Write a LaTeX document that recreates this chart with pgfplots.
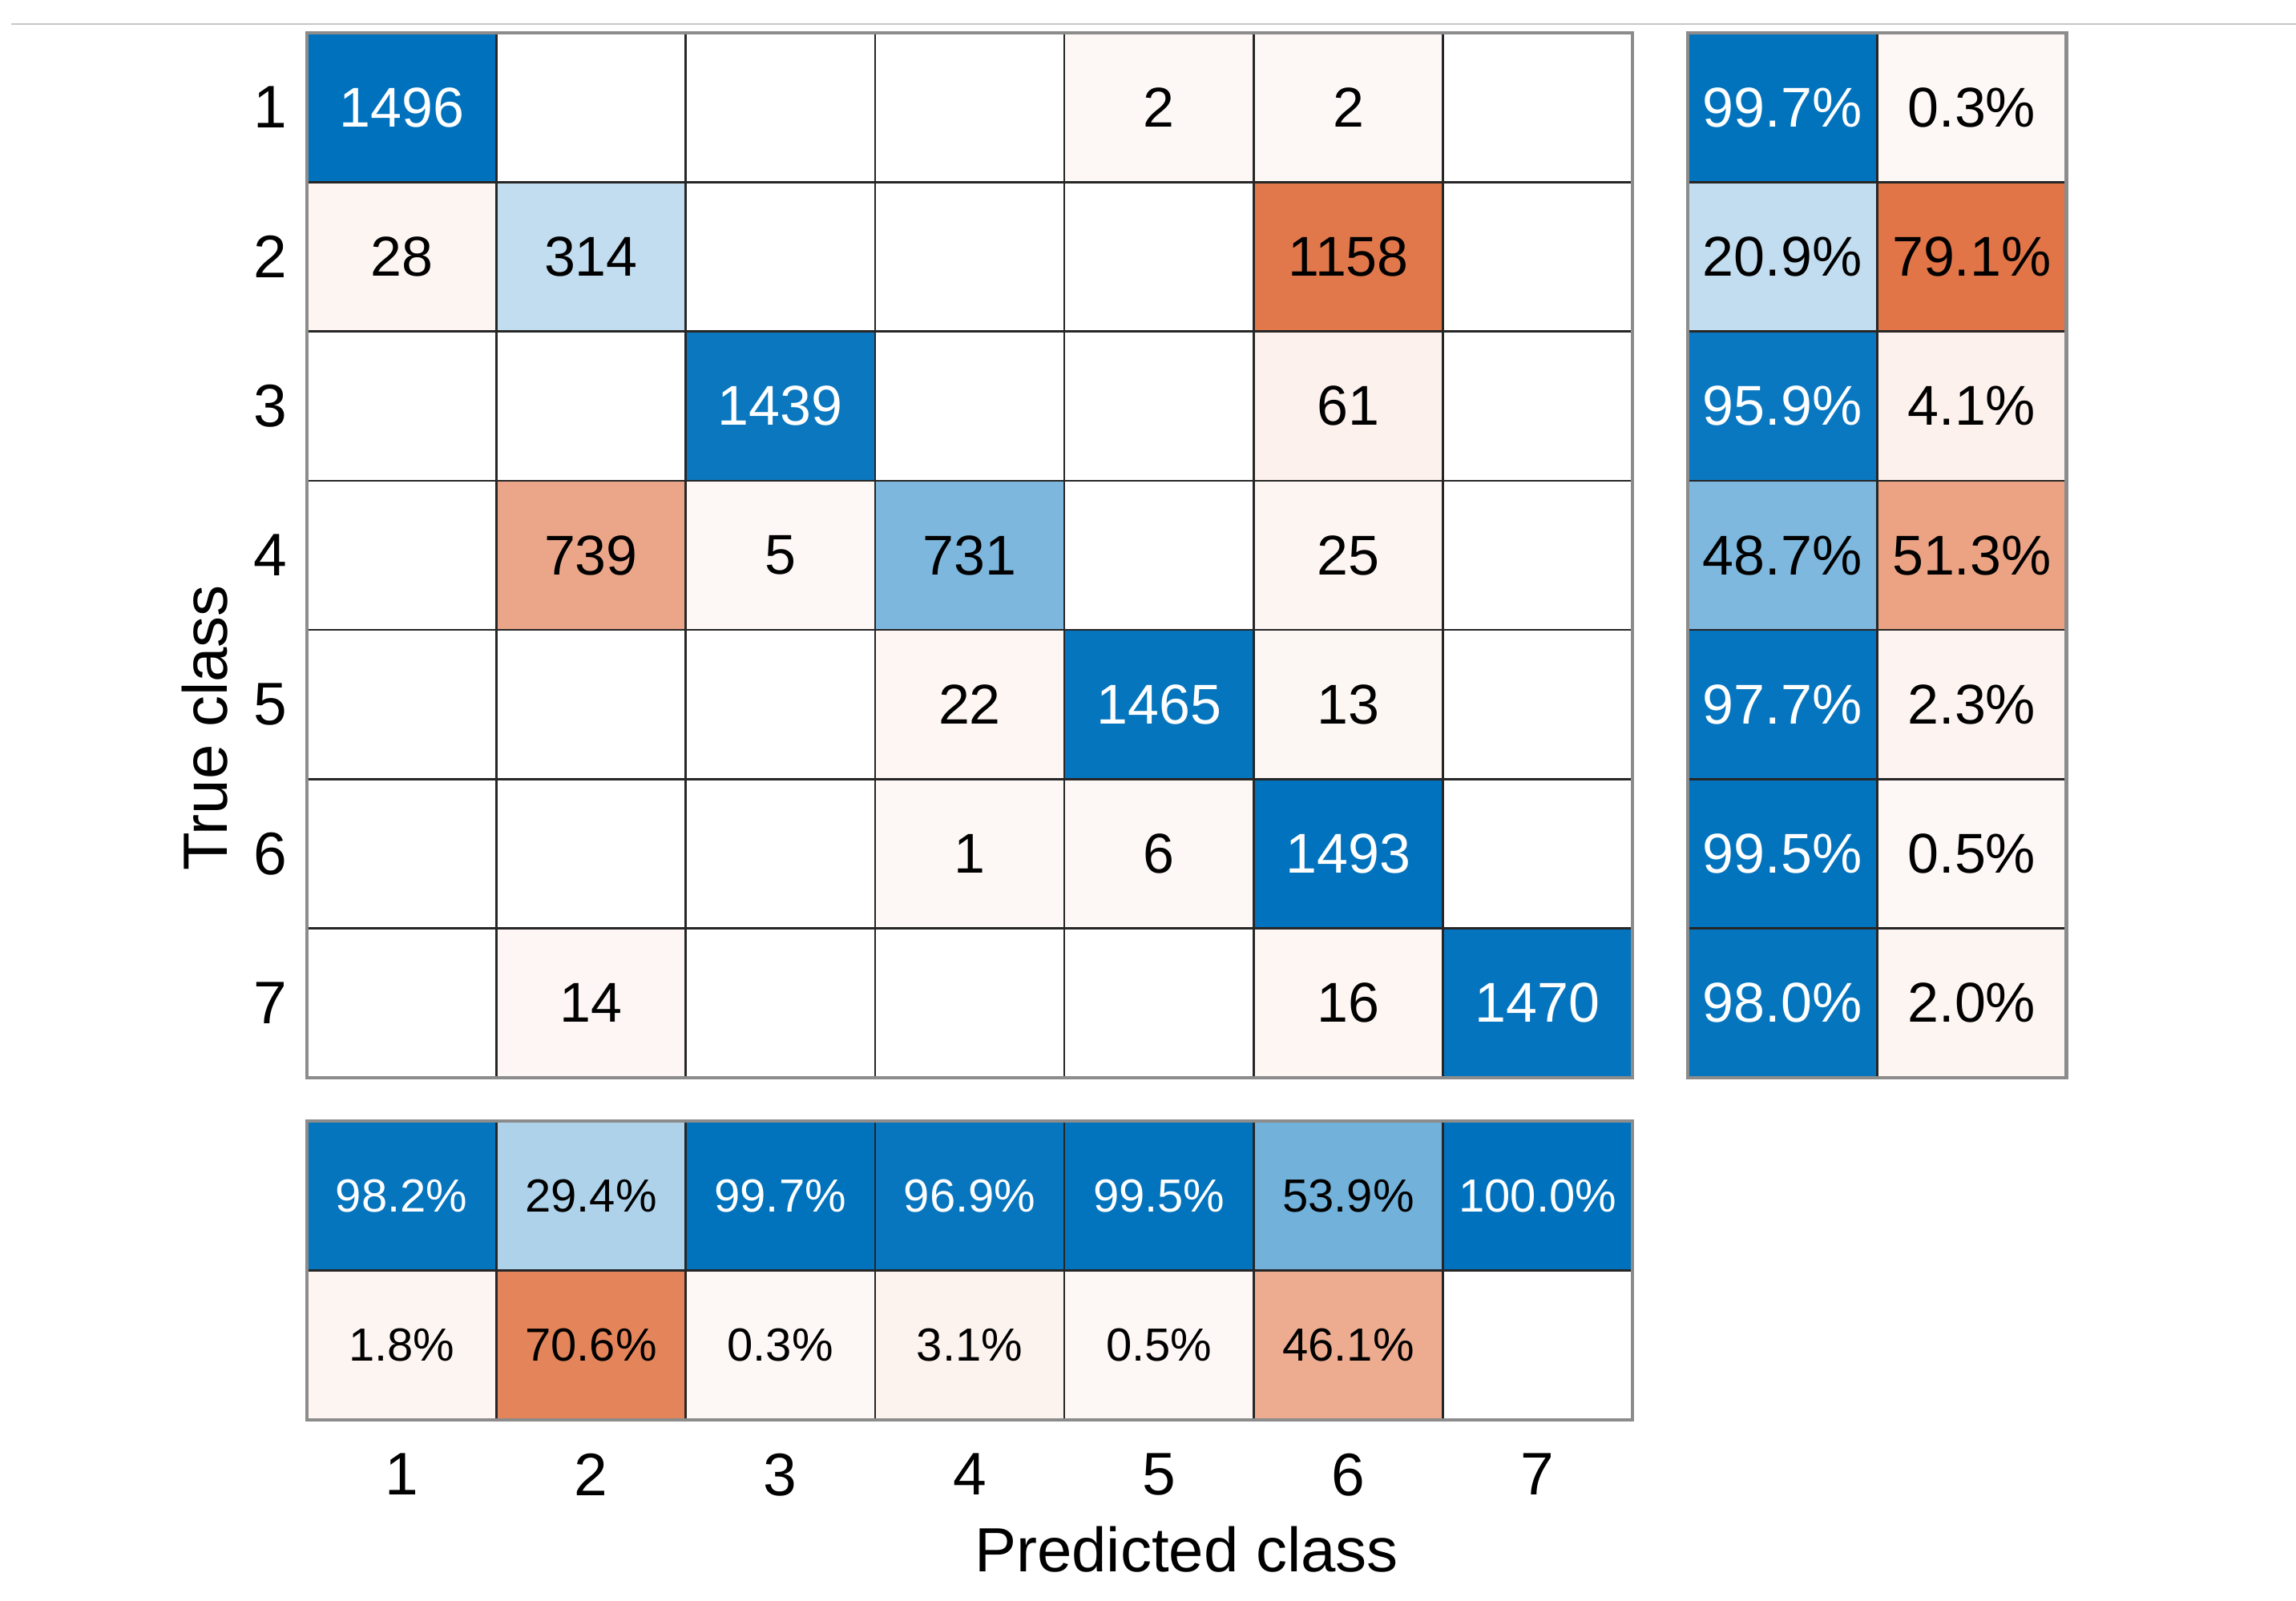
\documentclass[border=0pt]{standalone}
\usepackage{fontspec}
\setmainfont{Liberation Sans}
\setsansfont{Liberation Sans}
\usepackage{pgfplots}
\usepackage{pgfplotstable}
\pgfplotsset{compat=1.18}
\newcommand\cellfont{\fontsize{14}{16}\selectfont}
\newcommand\sumfont{\fontsize{11.6}{13}\selectfont}
\newcommand\labfont{\fontsize{15.6}{18}\selectfont}

\pgfplotstableread{
x y v
1 1 1496
2 1 0
3 1 0
4 1 0
5 1 2
6 1 2
7 1 0
1 2 28
2 2 314
3 2 0
4 2 0
5 2 0
6 2 1158
7 2 0
1 3 0
2 3 0
3 3 1439
4 3 0
5 3 0
6 3 61
7 3 0
1 4 0
2 4 739
3 4 5
4 4 731
5 4 0
6 4 25
7 4 0
1 5 0
2 5 0
3 5 0
4 5 22
5 5 1465
6 5 13
7 5 0
1 6 0
2 6 0
3 6 0
4 6 1
5 6 6
6 6 1493
7 6 0
1 7 0
2 7 14
3 7 0
4 7 0
5 7 0
6 7 16
7 7 1470
}\main

\pgfplotstableread{
x y v
1 1 99.7
2 1 0.3
1 2 20.9
2 2 79.1
1 3 95.9
2 3 4.1
1 4 48.7
2 4 51.3
1 5 97.7
2 5 2.3
1 6 99.5
2 6 0.5
1 7 98.0
2 7 2.0
}\rowsum

\pgfplotstableread{
x y v
1 1 98.2
2 1 29.4
3 1 99.7
4 1 96.9
5 1 99.5
6 1 53.9
7 1 100.0
1 2 1.8
2 2 70.6
3 2 0.3
4 2 3.1
5 2 0.5
6 2 46.1
7 2 0
}\colsum

\pgfplotsset{
  cm/.style={
    scale only axis,
    y dir=reverse,
    enlargelimits=false,
    colormap={cmat}{rgb255=(217,83,25) rgb255=(255,255,255) rgb255=(0,114,189)},
    point meta min=-1, point meta max=1,
    axis on top,
    axis line style={draw=black!45, line width=0.9pt},
    major tick length=0pt, minor tick length=0pt,
    xminorgrids=true, yminorgrids=true,
    minor grid style={draw=black!85, line width=0.5pt},
    tick label style={font=\labfont},
    /pgf/number format/assume math mode=true,
    clip=false,
  },
}

\begin{document}
\begin{tikzpicture}
\useasboundingbox (0,0) rectangle (573pt,-399.4pt);
\draw[black!22, line width=0.5pt] (2.8pt,-6pt) -- (573pt,-6pt);

% main confusion matrix
\begin{axis}[cm,
  at={(76.6pt,-8.2pt)}, anchor=north west,
  width=330.8pt, height=260.8pt,
  xmin=0.5, xmax=7.5, ymin=0.5, ymax=7.5,
  xtick={1,...,7}, xticklabels={}, ytick={1,...,7},
  minor xtick={1.5,2.5,...,6.5}, minor ytick={1.5,2.5,...,6.5},
  yticklabel style={font=\fontsize{15}{17}\selectfont, xshift=-1.5pt},
]
\addplot[matrix plot*, mesh/cols=7, point meta=explicit]
  table[x=x, y=y, meta expr={(\thisrow{x}==\thisrow{y} ? 1 : -1)*(\thisrow{v}>0 ? 0.04+0.96*\thisrow{v}/1496 : 0)}] {\main};
\addplot[draw=none, mark=none, point meta=explicit symbolic,
  visualization depends on={\thisrow{v} \as \val},
  visualization depends on={\thisrow{x} \as \cx},
  visualization depends on={\thisrow{y} \as \cy},
  nodes near coords={\pgfmathtruncatemacro\tw{and(\cx==\cy,\val>900)}\ifnum\tw=1 \color{white}\fi\ifdim\val pt>0pt \pgfplotspointmeta\fi},
  every node near coord/.append style={anchor=center, font=\cellfont}]
  table[x=x, y=y, meta=v] {\main};
\end{axis}

% row summary
\begin{axis}[cm,
  at={(421.2pt,-8.2pt)}, anchor=north west,
  width=94.5pt, height=260.8pt,
  xmin=0.5, xmax=2.5, ymin=0.5, ymax=7.5,
  xtick={1,2}, xticklabels={}, ytick={1,...,7}, yticklabels={},
  minor xtick={1.5}, minor ytick={1.5,2.5,...,6.5},
]
\addplot[matrix plot*, mesh/cols=2, point meta=explicit]
  table[x=x, y=y, meta expr={(\thisrow{x}==1 ? 1 : -1)*(\thisrow{v}>0 ? 0.04+0.96*\thisrow{v}/100 : 0)}] {\rowsum};
\addplot[draw=none, mark=none, point meta=explicit symbolic,
  visualization depends on={\thisrow{v} \as \val},
  visualization depends on={\thisrow{x} \as \cx},
  nodes near coords={\pgfmathtruncatemacro\tw{and(\cx==1,\val>60)}\ifnum\tw=1 \color{white}\fi\ifdim\val pt>0pt \pgfplotspointmeta\%\fi},
  every node near coord/.append style={anchor=center, font=\cellfont}]
  table[x=x, y=y, meta=v] {\rowsum};
\end{axis}

% column summary
\begin{axis}[cm,
  at={(76.6pt,-279.8pt)}, anchor=north west,
  width=330.8pt, height=74.6pt,
  xmin=0.5, xmax=7.5, ymin=0.5, ymax=2.5,
  xtick={1,...,7}, ytick={1,2}, yticklabels={},
  minor xtick={1.5,2.5,...,6.5}, minor ytick={1.5},
  xticklabel style={font=\fontsize{15}{17}\selectfont, yshift=-4.8pt},
]
\addplot[matrix plot*, mesh/cols=7, point meta=explicit]
  table[x=x, y=y, meta expr={(\thisrow{y}==1 ? 1 : -1)*(\thisrow{v}>0 ? 0.04+0.96*\thisrow{v}/100 : 0)}] {\colsum};
\addplot[draw=none, mark=none, point meta=explicit symbolic,
  visualization depends on={\thisrow{v} \as \val},
  visualization depends on={\thisrow{y} \as \cy},
  nodes near coords={\pgfmathtruncatemacro\tw{and(\cy==1,\val>60)}\ifnum\tw=1 \color{white}\fi\ifdim\val pt>0pt \pgfplotspointmeta\%\fi},
  every node near coord/.append style={anchor=center, font=\sumfont}]
  table[x=x, y=y, meta=v] {\colsum};
\end{axis}

\node[font=\labfont] at (296.1pt,-386.8pt) {Predicted class};
\node[font=\labfont, rotate=90] at (51.2pt,-181.7pt) {True class};
\end{tikzpicture}
\end{document}
